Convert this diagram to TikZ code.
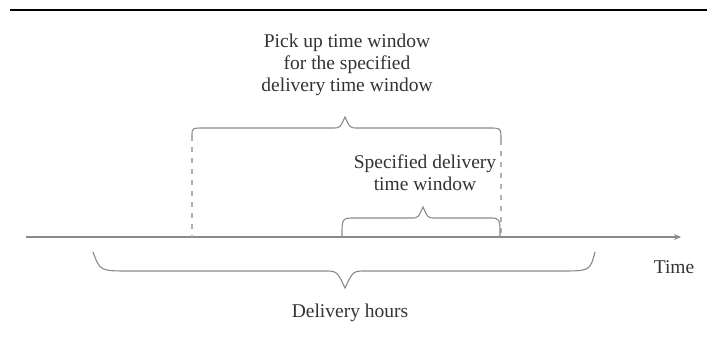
\documentclass[tikz,border=0pt]{standalone}
\usepackage{fontspec}
\setmainfont{Liberation Serif}
\usetikzlibrary{arrows.meta}
\definecolor{txt}{HTML}{333333}
\definecolor{ln}{HTML}{8A8A8A}
\definecolor{dsh}{HTML}{B0B0B0}
\tikzset{
  lbl/.style={text=txt, align=center, font=\fontsize{19.5}{22}\selectfont, inner sep=0pt},
  bracepath/.style={draw=ln, line width=1.1pt},
  guide/.style={draw=dsh, line width=1.3pt, dash pattern=on 5pt off 6pt},
  axisline/.style={draw=ln, line width=1.2pt, -{Stealth[length=7pt,width=6pt]}}
}
\begin{document}
\begin{tikzpicture}[x=1pt,y=-1pt]
\useasboundingbox (0,0) rectangle (713,342);
% top rule
\coordinate (r1) at (10,10);
\coordinate (r2) at (707,10);
\draw[black, line width=2.5pt] (r1) -- (r2);
% texts
\node[lbl] (pick) at (347,65) {Pick up time window\\for the specified\\delivery time window};
\node[lbl] (spec) at (425,173) {Specified delivery\\time window};
\node[lbl] (time) at (674,267) {Time};
\node[lbl] (hours) at (350,313) {Delivery hours};
% axis
\coordinate (a0) at (26,237);
\coordinate (a1) at (681,237);
\draw[axisline] (a0) -- (a1);
% dashed guides
\coordinate (g1t) at (192,136);
\coordinate (g1b) at (192,237);
\coordinate (g2t) at (501,140);
\coordinate (g2b) at (501,237);
\draw[guide] (g1t) -- (g1b);
\draw[guide] (g2t) -- (g2b);
% upper brace
\draw[bracepath] (192,136) .. controls (192,128) .. (204,128) -- (332,128)
  .. controls (340,128) .. (345,117) .. controls (350,128) .. (358,128)
  -- (488,128) .. controls (501,128) .. (501,140);
% small brace
\draw[bracepath] (342,237) .. controls (342,218) .. (355,218) -- (411,218)
  .. controls (418,218) .. (423,207) .. controls (428,218) .. (435,218)
  -- (489,218) .. controls (500,218) .. (500,237);
% big brace
\draw[bracepath] (93,252) .. controls (100,271) .. (130,271) -- (324,271)
  .. controls (337,271) .. (345,288) .. controls (353,271) .. (366,271)
  -- (560,271) .. controls (590,271) .. (595,252);
\end{tikzpicture}
\end{document}
